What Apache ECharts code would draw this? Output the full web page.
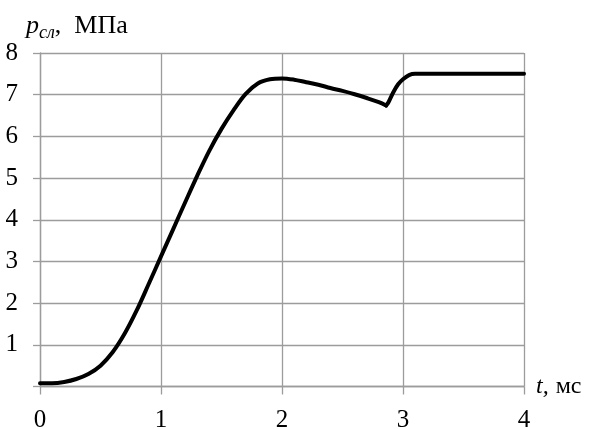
<!DOCTYPE html>
<html>
<head>
<meta charset="utf-8">
<script src="https://cdn.jsdelivr.net/npm/echarts@6/dist/echarts.min.js"></script>
<style>
  html, body { margin: 0; padding: 0; background: #fff; }
  #chart { width: 590px; height: 429px; }
</style>
</head>
<body>
<div id="chart"></div>
<script>
// Pressure p (MPa) against time t (ms)
const timeMs = [0, 0.1, 0.2, 0.3, 0.4, 0.5, 0.6, 0.7, 0.8, 0.9, 1.0, 1.1, 1.2, 1.3, 1.4,
  1.5, 1.6, 1.7, 1.8, 1.9, 2.0, 2.1, 2.2, 2.3, 2.4, 2.5, 2.6, 2.7, 2.8, 2.86,
  2.88, 2.92, 2.96, 3.0, 3.05, 3.1, 3.2, 4.0];
const pressure = [0.08, 0.08, 0.11, 0.18, 0.3, 0.5, 0.82, 1.27, 1.83, 2.47, 3.12, 3.77, 4.42, 5.06, 5.66,
  6.18, 6.63, 7.02, 7.27, 7.37, 7.39, 7.36, 7.3, 7.24, 7.16, 7.09, 7.01, 6.92, 6.82, 6.74,
  6.82, 7.06, 7.25, 7.37, 7.47, 7.5, 7.5, 7.5];
// index of the sharp dip where the rise and the recovery meet
const dipIndex = 29;
const xTicks = [0, 1, 2, 3, 4];
const yTicks = [1, 2, 3, 4, 5, 6, 7, 8];

const serif = 'Liberation Serif';
const gridColor = '#9c9c9c';

const points = timeMs.map((t, i) => [t, pressure[i]]);
const curveStyle = { color: '#000', width: 4, join: 'round', cap: 'round' };

const chart = echarts.init(document.getElementById('chart'), null, { renderer: 'canvas' });
chart.setOption({
  animation: false,
  backgroundColor: '#fff',
  title: {
    left: 21, top: 5,
    text: '{p|p}{s|сл}{n|,  МПа}',
    textStyle: {
      fontFamily: serif, fontWeight: 'normal',
      rich: {
        p: { fontFamily: serif, fontStyle: 'italic', fontWeight: 'normal', fontSize: 26, color: '#000' },
        s: { fontFamily: serif, fontStyle: 'italic', fontWeight: 'normal', fontSize: 18, color: '#000', padding: [14, 0, 0, 0] },
        n: { fontFamily: serif, fontWeight: 'normal', fontSize: 26, color: '#000' }
      }
    }
  },
  grid: {
    left: 40, right: 66, top: 53, bottom: 42.5,
    containLabel: false, outerBoundsMode: 'none'
  },
  xAxis: {
    type: 'value', min: xTicks[0], max: xTicks[xTicks.length - 1], interval: 1,
    name: '{t|t,}{u|мс}',
    nameLocation: 'end', nameGap: 12,
    nameTextStyle: {
      fontFamily: serif, fontSize: 24,
      rich: {
        t: { fontFamily: serif, fontStyle: 'italic', fontSize: 24, color: '#000', padding: [0, 7, 0, 0] },
        u: { fontFamily: serif, fontSize: 24, color: '#000' }
      }
    },
    axisLine: { lineStyle: { color: gridColor, width: 1.3 } },
    axisTick: { show: true, length: 8, lineStyle: { color: gridColor, width: 1.3 } },
    axisLabel: { fontFamily: serif, fontSize: 25, color: '#000', margin: 21 },
    splitLine: { show: true, lineStyle: { color: gridColor, width: 1.3 } }
  },
  yAxis: {
    type: 'value', min: 0, max: yTicks[yTicks.length - 1], interval: 1,
    axisLine: { show: true, lineStyle: { color: gridColor, width: 1.3 } },
    axisTick: { show: true, length: 7, lineStyle: { color: gridColor, width: 1.3 } },
    axisLabel: {
      fontFamily: serif, fontSize: 25, color: '#000', margin: 22,
      formatter: v => (yTicks.indexOf(v) >= 0 ? String(v) : '')
    },
    splitLine: { show: true, lineStyle: { color: gridColor, width: 1.3 } }
  },
  series: [
    {
      type: 'line',
      data: points.slice(0, dipIndex + 1),
      showSymbol: false,
      smooth: 0.35,
      lineStyle: curveStyle
    },
    {
      type: 'line',
      data: points.slice(dipIndex),
      showSymbol: false,
      smooth: 0.35,
      lineStyle: curveStyle
    }
  ]
});
</script>
</body>
</html>
